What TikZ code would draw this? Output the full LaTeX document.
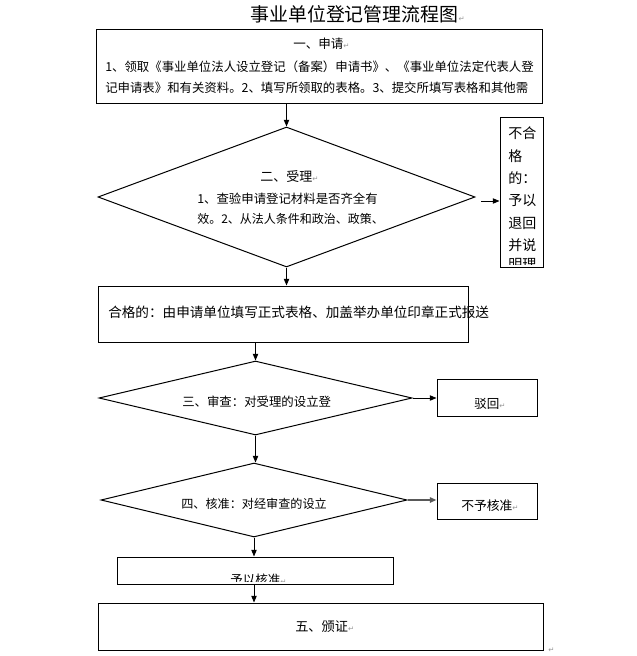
\documentclass[tikz,border=0pt]{standalone}
\usepackage{fontspec}
\newfontfamily\cjkf{Noto Sans CJK SC}
\newfontfamily\symf{DejaVu Sans}
\usetikzlibrary{shapes.geometric,arrows.meta}
\newcommand\parmk{{\color{gray!80}\symf\fontsize{5.5}{6}\selectfont ↵}}
\newcommand\fsz[1]{\fontsize{#1}{#1}\selectfont}
\begin{document}
\begin{tikzpicture}[x=0.75pt,y=-0.75pt,
  box/.style={draw,line width=0.75pt,inner sep=0pt,rectangle},
  dia/.style={draw,line width=0.75pt,inner sep=0pt,diamond},
  txt/.style={inner sep=0pt,anchor=west,font=\cjkf},
  arr/.style={-{Triangle[length=5pt,width=4pt]},line width=0.75pt}]
\fill[white] (0,0) rectangle (636,656);
\useasboundingbox (0,0) rectangle (636,656);

% shapes
\node[box,minimum width=334.5pt,minimum height=55.5pt] (b1) at (319,67) {};
\node[dia,minimum width=282.75pt,minimum height=105pt] (d1) at (286.5,197) {};
\node[box,minimum width=32.25pt,minimum height=111.75pt] (n1) at (521.5,192.5) {};
\node[box,minimum width=277.5pt,minimum height=42pt] (b2) at (283,314) {};
\node[dia,minimum width=234.75pt,minimum height=55.5pt] (d2) at (255.5,398) {};
\node[box,minimum width=75pt,minimum height=27.75pt] (r1) at (487,397.5) {};
\node[dia,minimum width=229.5pt,minimum height=55.5pt] (d3) at (254,500) {};
\node[box,minimum width=75pt,minimum height=27pt] (r2) at (487,501) {};
\node[box,minimum width=207pt,minimum height=20.25pt] (b3) at (255,570.5) {};
\node[box,minimum width=333.75pt,minimum height=35.25pt] (b4) at (320.5,626.5) {};

% title
\node[txt] (title) at (250,14) {\fsz{14.2}事业单位登记管理流程图\parmk};

% box 1 text
\node[txt] (t1a) at (293,44) {\fsz{9.4}一、申请\parmk};
\node[txt] (t1b) at (105,67) {\fsz{9.3}1、领取《事业单位法人设立登记（备案）申请书》、《事业单位法定代表人登};
\node[txt] (t1c) at (105,88) {\fsz{9.3}记申请表》和有关资料。2、填写所领取的表格。3、提交所填写表格和其他需};

% diamond 1 text
\node[txt] (t2a) at (260,177) {\fsz{9.75}二、受理\parmk};
\node[txt] (t2b) at (197,199) {\fsz{9.3}1、查验申请登记材料是否齐全有};
\node[txt] (t2c) at (197,219) {\fsz{9.0}效。2、从法人条件和政治、政策、};

% reject box text (clipped)
\begin{scope}
\clip (500,118) rectangle (543,264);
\node[txt] (n1a) at (508,133.3) {\fsz{10.5}不合};
\node[txt] (n1b) at (508,155.8) {\fsz{10.5}格};
\node[txt] (n1c) at (508,178.3) {\fsz{10.5}的：};
\node[txt] (n1d) at (508,200.6) {\fsz{10.5}予以};
\node[txt] (n1e) at (508,223) {\fsz{10.5}退回};
\node[txt] (n1f) at (508,245.3) {\fsz{10.5}并说};
\node[txt] (n1g) at (508,265) {\fsz{10.5}明理};
\end{scope}

% other texts
\node[txt] (t3) at (108,312) {\fsz{10.2}合格的：由申请单位填写正式表格、加盖举办单位印章正式报送};
\node[txt] (t4) at (182,402) {\fsz{9.3}三、审查：对受理的设立登};
\node[txt] (t5) at (474,404) {\fsz{9.4}驳回\parmk};
\node[txt] (t6) at (181,504) {\fsz{9.1}四、核准：对经审查的设立};
\node[txt] (t7) at (461,506) {\fsz{9.6}不予核准\parmk};
\begin{scope}
\clip (117,557) rectangle (393,581.5);
\node[txt] (t8) at (230,579.5) {\fsz{9.4}予以核准\parmk};
\end{scope}
\node[txt] (t9) at (295,627) {\fsz{9.9}五、颁证\parmk};
\node[txt] (t10) at (548,650) {\parmk};

% connectors
\draw[arr] (d1.north |- b1.south) -- (d1.north);
\coordinate (a1) at (481,201);
\draw[arr] (a1) -- (a1 -| n1.west);
\draw[arr] (d1.south) -- (d1.south |- b2.north);
\draw[arr] (d2.north |- b2.south) -- (d2.north);
\draw[arr] (d2.east) -- (d2.east -| r1.west);
\draw[arr] (d2.south) -- (d2.south |- d3.north);
\draw[arr,draw=gray!70!black,fill=black,line width=1.2pt] (d3.east) -- (d3.east -| r2.west);
\draw[arr] (d3.south) -- (d3.south |- b3.north);
\draw[arr] (d3.south |- b3.south) -- (d3.south |- b4.north);
\end{tikzpicture}
\end{document}
